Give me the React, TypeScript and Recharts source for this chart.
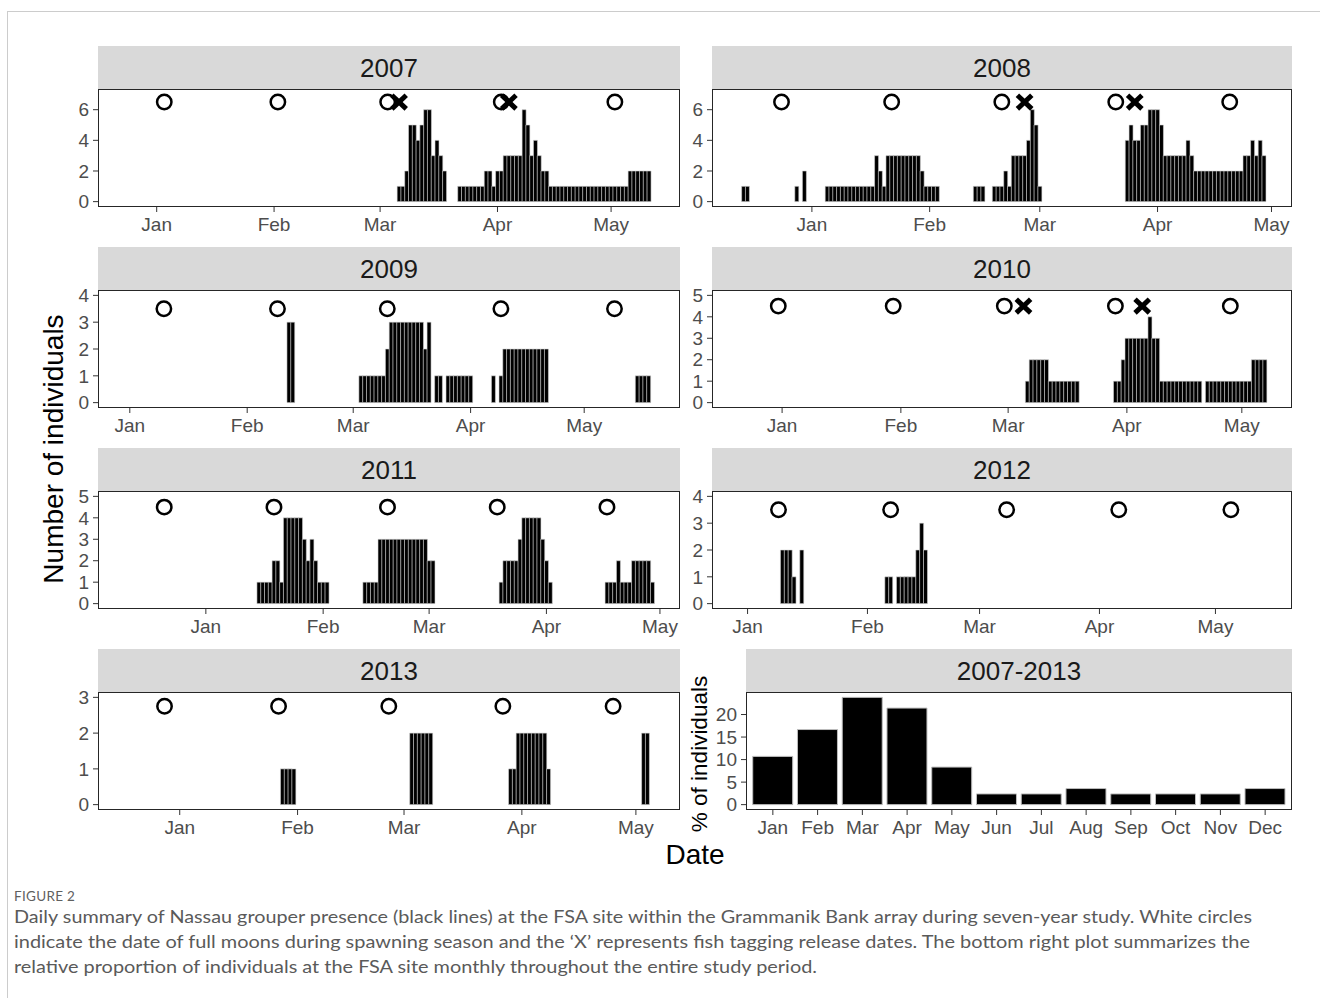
import React from 'react';
import { ComposedChart, Bar, Scatter, XAxis, YAxis } from 'recharts';

const FONT = "'Liberation Sans', Arial, Helvetica, sans-serif";

// ---------- tick labels ----------
const seasonMonths = ['Jan', 'Feb', 'Mar', 'Apr', 'May'];
const allMonths = ['Jan', 'Feb', 'Mar', 'Apr', 'May', 'Jun', 'Jul', 'Aug', 'Sep', 'Oct', 'Nov', 'Dec'];

// ---------- 2007-2013 summary: % of individuals per month ----------
const summaryPct = [10.71, 16.67, 23.81, 21.43, 8.33, 2.38, 2.38, 3.57, 2.38, 2.38, 2.38, 3.57];

type Seg = { start: string; values: number[] };

// ---------- daily counts (runs of consecutive days) ----------
const counts2007: Seg[] = [
  { start: '2007-03-06', values: [1, 1, 2, 5, 5, 4, 5, 6, 6, 3, 4, 3, 2] },
  { start: '2007-03-22', values: [1, 1, 1, 1, 1, 1, 1, 2, 2, 1, 2, 2, 3, 3, 3, 3, 3, 6, 5, 3, 4, 3, 2, 2, 1, 1, 1, 1, 1, 1, 1, 1, 1, 1, 1, 1, 1, 1, 1, 1, 1, 1, 1, 1, 1, 2, 2, 2, 2, 2, 2] },
];
const counts2008: Seg[] = [
  { start: '2007-12-14', values: [1, 1] },
  { start: '2007-12-28', values: [1, 0, 2] },
  { start: '2008-01-05', values: [1, 1, 1, 1, 1, 1, 1, 1, 1, 1, 1, 1, 1, 3, 2, 1, 3, 3, 3, 3, 3, 3, 3, 3, 3, 2, 1, 1, 1, 1] },
  { start: '2008-02-13', values: [1, 1, 1] },
  { start: '2008-02-18', values: [1, 1, 1, 2, 1, 3, 3, 3, 3, 4, 6, 5, 1] },
  { start: '2008-03-24', values: [4, 5, 4, 4, 5, 5, 6, 6, 6, 5, 3, 3, 3, 3, 3, 3, 4, 3, 2, 2, 2, 2, 2, 2, 2, 2, 2, 2, 2, 2, 2, 3, 3, 4, 3, 4, 3] },
];
const counts2009: Seg[] = [
  { start: '2009-02-12', values: [3, 3] },
  { start: '2009-03-03', values: [1, 1, 1, 1, 1, 1, 1, 2, 3, 3, 3, 3, 3, 3, 3, 3, 3, 2, 3, 0, 1, 1, 0, 1, 1, 1, 1, 1, 1, 1] },
  { start: '2009-04-07', values: [1, 0, 1, 2, 2, 2, 2, 2, 2, 2, 2, 2, 2, 2, 2] },
  { start: '2009-05-15', values: [1, 1, 1, 1] },
];
const counts2010: Seg[] = [
  { start: '2010-03-06', values: [1, 2, 2, 2, 2, 2, 1, 1, 1, 1, 1, 1, 1, 1] },
  { start: '2010-03-29', values: [1, 1, 2, 3, 3, 3, 3, 3, 3, 4, 3, 3, 1, 1, 1, 1, 1, 1, 1, 1, 1, 1, 1, 0, 1, 1, 1, 1, 1, 1, 1, 1, 1, 1, 1, 1, 2, 2, 2, 2] },
];
const counts2011: Seg[] = [
  { start: '2011-01-15', values: [1, 1, 1, 1, 2, 2, 1, 4, 4, 4, 4, 4, 3, 2, 3, 2, 1, 1, 1] },
  { start: '2011-02-12', values: [1, 1, 1, 1, 3, 3, 3, 3, 3, 3, 3, 3, 3, 3, 3, 3, 3, 2, 2] },
  { start: '2011-03-20', values: [1, 2, 2, 2, 2, 3, 4, 4, 4, 4, 4, 3, 2, 1] },
  { start: '2011-04-17', values: [1, 1, 1, 2, 1, 1, 1, 2, 2, 2, 2, 2, 1] },
];
const counts2012: Seg[] = [
  { start: '2012-01-10', values: [2, 2, 2, 1, 0, 2] },
  { start: '2012-02-06', values: [1, 1, 0, 1, 1, 1, 1, 1, 2, 3, 2] },
];
const counts2013: Seg[] = [
  { start: '2013-01-28', values: [1, 1, 1, 1] },
  { start: '2013-03-03', values: [2, 2, 2, 2, 2, 2] },
  { start: '2013-03-29', values: [1, 1, 2, 2, 2, 2, 2, 2, 2, 2, 1] },
  { start: '2013-05-03', values: [2, 2] },
];

// ---------- full moons ----------
const moons2007 = ['2007-01-03', '2007-02-02', '2007-03-03', '2007-04-02', '2007-05-02'];
const moons2008 = ['2007-12-24', '2008-01-22', '2008-02-20', '2008-03-21', '2008-04-20'];
const moons2009 = ['2009-01-10', '2009-02-09', '2009-03-10', '2009-04-09', '2009-05-09'];
const moons2010 = ['2009-12-31', '2010-01-30', '2010-02-28', '2010-03-29', '2010-04-28'];
const moons2011 = ['2010-12-21', '2011-01-19', '2011-02-18', '2011-03-19', '2011-04-17'];
const moons2012 = ['2012-01-09', '2012-02-07', '2012-03-08', '2012-04-06', '2012-05-05'];
const moons2013 = ['2012-12-28', '2013-01-27', '2013-02-25', '2013-03-27', '2013-04-25'];

// ---------- tag release dates ----------
const releases2007 = ['2007-03-06', '2007-04-04'];
const releases2008 = ['2008-02-26', '2008-03-26'];
const releases2010 = ['2010-03-05', '2010-04-05'];

// ---------- per-panel axis settings ----------
const panelSpecs = [
  { year: 2007, counts: counts2007, moons: moons2007, releases: releases2007, xRange: [-15.5, 138.2], yLimit: 7, yTicks: [0, 2, 4, 6], markY: 6.5 },
  { year: 2008, counts: counts2008, moons: moons2008, releases: releases2008, xRange: [-26.3, 126.4], yLimit: 7, yTicks: [0, 2, 4, 6], markY: 6.5 },
  { year: 2009, counts: counts2009, moons: moons2009, releases: [], xRange: [-8.4, 145.3], yLimit: 4, yTicks: [0, 1, 2, 3, 4], markY: 3.5 },
  { year: 2010, counts: counts2010, moons: moons2010, releases: releases2010, xRange: [-18.3, 133.1], yLimit: 5, yTicks: [0, 1, 2, 3, 4, 5], markY: 4.5 },
  { year: 2011, counts: counts2011, moons: moons2011, releases: [], xRange: [-28.5, 125.3], yLimit: 5, yTicks: [0, 1, 2, 3, 4, 5], markY: 4.5 },
  { year: 2012, counts: counts2012, moons: moons2012, releases: [], xRange: [-9.2, 140.8], yLimit: 4, yTicks: [0, 1, 2, 3, 4], markY: 3.5 },
  { year: 2013, counts: counts2013, moons: moons2013, releases: [], xRange: [-21.5, 131.6], yLimit: 3, yTicks: [0, 1, 2, 3], markY: 2.75 },
];

// ---------- layout (page pixels) ----------
const COL_L = { left: 98, width: 582 };
const COL_R = { left: 712, width: 580 };
const ROW_TOPS = [89, 290, 491, 692];
const PANEL_H = 118;
const STRIP_H = 43;
const panelBoxes = [
  { ...COL_L, top: ROW_TOPS[0] },
  { ...COL_R, top: ROW_TOPS[0] },
  { ...COL_L, top: ROW_TOPS[1] },
  { ...COL_R, top: ROW_TOPS[1] },
  { ...COL_L, top: ROW_TOPS[2] },
  { ...COL_R, top: ROW_TOPS[2] },
  { ...COL_L, top: ROW_TOPS[3] },
];
const summaryBox = { left: 746, width: 546, top: ROW_TOPS[3] };

// ---------- helpers ----------
function dayOf(date: string, year: number): number {
  const [y, m, d] = date.split('-').map(Number);
  return Math.round((Date.UTC(y, m - 1, d) - Date.UTC(year, 0, 1)) / 86400000);
}

function monthTicks(year: number): number[] {
  return seasonMonths.map((_, i) => dayOf(`${year}-${String(i + 1).padStart(2, '0')}-01`, year));
}

function buildRows(spec: any) {
  const map = new Map<number, any>();
  const lo = Math.ceil(spec.xRange[0]);
  const hi = Math.floor(spec.xRange[1]);
  for (let d = lo; d <= hi; d++) map.set(d, { d, n: null, moon: null, rel: null });
  spec.counts.forEach((s: Seg) => {
    const d0 = dayOf(s.start, spec.year);
    s.values.forEach((v, i) => {
      const r = map.get(d0 + i);
      if (r && v > 0) r.n = v;
    });
  });
  spec.moons.forEach((m: string) => {
    const r = map.get(dayOf(m, spec.year));
    if (r) r.moon = spec.markY;
  });
  spec.releases.forEach((m: string) => {
    const r = map.get(dayOf(m, spec.year));
    if (r) r.rel = spec.markY;
  });
  return Array.from(map.values());
}

const MoonShape = (props: any) => {
  const { cx, cy, payload } = props;
  if (!payload || payload.moon == null || cx == null || cy == null || isNaN(cy)) return <g />;
  return <circle cx={cx} cy={cy} r={7.2} fill="#ffffff" stroke="#000000" strokeWidth={2.5} />;
};

const ReleaseShape = (props: any) => {
  const { cx, cy, payload } = props;
  if (!payload || payload.rel == null || cx == null || cy == null || isNaN(cy)) return <g />;
  const w = 7.2;
  const h = 6.8;
  return (
    <g>
      <line x1={cx - w} y1={cy - h} x2={cx + w} y2={cy + h} stroke="#000" strokeWidth={5} />
      <line x1={cx - w} y1={cy + h} x2={cx + w} y2={cy - h} stroke="#000" strokeWidth={5} />
    </g>
  );
};

const ML = 60;
const MT = 8;
const MR = 14;
const MB = 42;

const tickStyle = { fontSize: 19, fill: '#4d4d4d', fontFamily: FONT };

function Strip({ left, top, width, label }: any) {
  return (
    <div
      style={{
        position: 'absolute',
        left,
        top: top - STRIP_H,
        width,
        height: STRIP_H,
        background: '#d9d9d9',
        display: 'flex',
        alignItems: 'center',
        justifyContent: 'center',
        fontFamily: FONT,
        fontSize: 26,
        color: '#1a1a1a',
        lineHeight: 1,
      }}
    >
      {label}
    </div>
  );
}

function Border({ left, top, width }: any) {
  return (
    <div
      style={{
        position: 'absolute',
        left,
        top,
        width,
        height: PANEL_H,
        border: '1.3px solid #262626',
        boxSizing: 'border-box',
        pointerEvents: 'none',
      }}
    />
  );
}

function YearPanel({ spec, box }: any) {
  const rows = buildRows(spec);
  const ticks = monthTicks(spec.year);
  const lim = spec.yLimit;
  return (
    <>
      <Strip left={box.left} top={box.top} width={box.width} label={String(spec.year)} />
      <div style={{ position: 'absolute', left: box.left - ML, top: box.top - MT }}>
        <ComposedChart
          width={box.width + ML + MR}
          height={PANEL_H + MT + MB}
          data={rows}
          margin={{ top: MT, right: MR, left: 0, bottom: 0 }}
          barCategoryGap={0}
          barGap={0}
        >
          <XAxis
            dataKey="d"
            type="number"
            domain={spec.xRange}
            allowDataOverflow
            ticks={ticks}
            interval={0}
            tickFormatter={(v: number) => seasonMonths[ticks.indexOf(v)] ?? ''}
            axisLine={false}
            stroke="#333"
            tickLine={{ stroke: '#333' }}
            tickSize={5}
            tickMargin={6}
            height={MB}
            tick={tickStyle}
          />
          <YAxis
            type="number"
            domain={[-0.05 * lim, 1.05 * lim]}
            allowDataOverflow
            ticks={spec.yTicks}
            interval={0}
            axisLine={false}
            stroke="#333"
            tickLine={{ stroke: '#333' }}
            tickSize={5}
            tickMargin={4}
            width={ML}
            tick={tickStyle}
          />
          <Bar dataKey="n" fill="#000000" stroke="#d4d4d4" strokeWidth={0.6} isAnimationActive={false} />
          <Scatter dataKey="moon" shape={MoonShape} isAnimationActive={false} />
          <Scatter dataKey="rel" shape={ReleaseShape} isAnimationActive={false} />
        </ComposedChart>
      </div>
      <Border left={box.left} top={box.top} width={box.width} />
    </>
  );
}

function SummaryPanel() {
  const rows = summaryPct.map((p, i) => ({ m: i + 1, pct: p }));
  const ticks = allMonths.map((_, i) => i + 1);
  const lo = -0.05 * 23.81;
  const hi = 23.81 * 1.05;
  const box = summaryBox;
  return (
    <>
      <Strip left={box.left} top={box.top} width={box.width} label="2007-2013" />
      <div style={{ position: 'absolute', left: box.left - ML, top: box.top - MT }}>
        <ComposedChart
          width={box.width + ML + MR}
          height={PANEL_H + MT + MB}
          data={rows}
          margin={{ top: MT, right: MR, left: 0, bottom: 0 }}
          barCategoryGap="5%"
        >
          <XAxis
            dataKey="m"
            type="number"
            domain={[0.4, 12.6]}
            allowDataOverflow
            ticks={ticks}
            interval={0}
            tickFormatter={(v: number) => allMonths[v - 1] ?? ''}
            axisLine={false}
            stroke="#333"
            tickLine={{ stroke: '#333' }}
            tickSize={5}
            tickMargin={6}
            height={MB}
            tick={tickStyle}
          />
          <YAxis
            type="number"
            domain={[lo, hi]}
            allowDataOverflow
            ticks={[0, 5, 10, 15, 20]}
            interval={0}
            axisLine={false}
            stroke="#333"
            tickLine={{ stroke: '#333' }}
            tickSize={5}
            tickMargin={4}
            width={ML}
            tick={tickStyle}
          />
          <Bar dataKey="pct" fill="#000000" stroke="#bdbdbd" strokeWidth={1} isAnimationActive={false} />
        </ComposedChart>
      </div>
      <Border left={box.left} top={box.top} width={box.width} />
    </>
  );
}

const captionLines = [
  'Daily summary of Nassau grouper presence (black lines) at the FSA site within the Grammanik Bank array during seven-year study. White circles',
  'indicate the date of full moons during spawning season and the \u2018X\u2019 represents fish tagging release dates. The bottom right plot summarizes the',
  'relative proportion of individuals at the FSA site monthly throughout the entire study period.',
];
const captionWidths = [1238, 1236, 803];

export default function App() {
  return (
    <div
      style={{
        position: 'absolute',
        left: 0,
        top: 0,
        width: 1320,
        height: 998,
        background: '#ffffff',
        overflow: 'hidden',
        fontFamily: FONT,
      }}
    >
      <svg width={1320} height={998} style={{ position: 'absolute', left: 0, top: 0 }}>
        <line x1={7.5} y1={11} x2={7.5} y2={998} stroke="#cccccc" strokeWidth={1} />
        <line x1={7} y1={11.5} x2={1320} y2={11.5} stroke="#cccccc" strokeWidth={1} />
        <text x={14} y={901} fontSize={13.5} fill="#5f5f5f" fontFamily="Lato, 'Open Sans', sans-serif" letterSpacing={0.3}>
          FIGURE 2
        </text>
        {captionLines.map((t, i) => (
          <text
            key={i}
            x={14}
            y={923 + i * 25}
            fontSize={17.6}
            fill="#5a5a5a"
            fontFamily="Lato, 'Open Sans', sans-serif"
            textLength={captionWidths[i]}
            lengthAdjust="spacingAndGlyphs"
          >
            {t}
          </text>
        ))}
      </svg>

      {panelSpecs.map((spec, i) => (
        <YearPanel key={spec.year} spec={spec} box={panelBoxes[i]} />
      ))}
      <SummaryPanel />

      <div
        style={{
          position: 'absolute',
          left: 54,
          top: 449,
          transform: 'translate(-50%, -50%) rotate(-90deg)',
          whiteSpace: 'nowrap',
          fontSize: 28,
          lineHeight: 1,
          color: '#000',
        }}
      >
        Number of individuals
      </div>
      <div
        style={{
          position: 'absolute',
          left: 700,
          top: 754,
          transform: 'translate(-50%, -50%) rotate(-90deg)',
          whiteSpace: 'nowrap',
          fontSize: 22.5,
          lineHeight: 1,
          color: '#000',
        }}
      >
        % of individuals
      </div>
      <div
        style={{
          position: 'absolute',
          left: 695,
          top: 855,
          transform: 'translate(-50%, -50%)',
          whiteSpace: 'nowrap',
          fontSize: 28,
          lineHeight: 1,
          color: '#000',
        }}
      >
        Date
      </div>
    </div>
  );
}
